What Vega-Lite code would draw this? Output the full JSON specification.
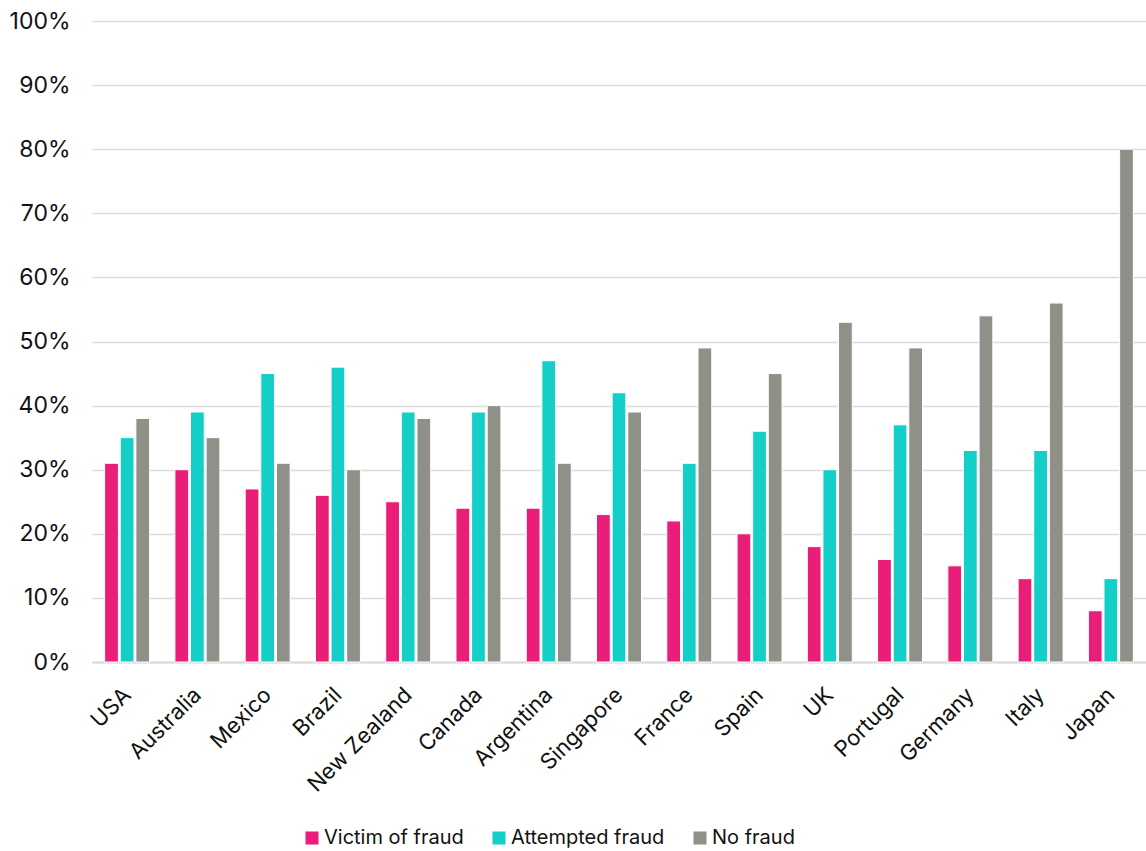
{
  "$schema": "https://vega.github.io/schema/vega-lite/v6.json",
  "autosize": {"type": "none"},
  "width": 1054,
  "height": 641,
  "padding": {"left": 92, "top": 21, "right": 0, "bottom": 189},
  "background": "white",
  "config": {
    "font": "Inter",
    "view": {"stroke": null},
    "axis": {"labelFont": "Inter", "labelColor": "#111111"},
    "legend": {"labelFont": "Inter", "labelColor": "#111111"}
  },
  "data": {
    "values": [
      {"country": "USA", "type": "Victim of fraud", "pct": 0.31},
      {"country": "USA", "type": "Attempted fraud", "pct": 0.35},
      {"country": "USA", "type": "No fraud", "pct": 0.38},
      {"country": "Australia", "type": "Victim of fraud", "pct": 0.30},
      {"country": "Australia", "type": "Attempted fraud", "pct": 0.39},
      {"country": "Australia", "type": "No fraud", "pct": 0.35},
      {"country": "Mexico", "type": "Victim of fraud", "pct": 0.27},
      {"country": "Mexico", "type": "Attempted fraud", "pct": 0.45},
      {"country": "Mexico", "type": "No fraud", "pct": 0.31},
      {"country": "Brazil", "type": "Victim of fraud", "pct": 0.26},
      {"country": "Brazil", "type": "Attempted fraud", "pct": 0.46},
      {"country": "Brazil", "type": "No fraud", "pct": 0.30},
      {"country": "New Zealand", "type": "Victim of fraud", "pct": 0.25},
      {"country": "New Zealand", "type": "Attempted fraud", "pct": 0.39},
      {"country": "New Zealand", "type": "No fraud", "pct": 0.38},
      {"country": "Canada", "type": "Victim of fraud", "pct": 0.24},
      {"country": "Canada", "type": "Attempted fraud", "pct": 0.39},
      {"country": "Canada", "type": "No fraud", "pct": 0.40},
      {"country": "Argentina", "type": "Victim of fraud", "pct": 0.24},
      {"country": "Argentina", "type": "Attempted fraud", "pct": 0.47},
      {"country": "Argentina", "type": "No fraud", "pct": 0.31},
      {"country": "Singapore", "type": "Victim of fraud", "pct": 0.23},
      {"country": "Singapore", "type": "Attempted fraud", "pct": 0.42},
      {"country": "Singapore", "type": "No fraud", "pct": 0.39},
      {"country": "France", "type": "Victim of fraud", "pct": 0.22},
      {"country": "France", "type": "Attempted fraud", "pct": 0.31},
      {"country": "France", "type": "No fraud", "pct": 0.49},
      {"country": "Spain", "type": "Victim of fraud", "pct": 0.20},
      {"country": "Spain", "type": "Attempted fraud", "pct": 0.36},
      {"country": "Spain", "type": "No fraud", "pct": 0.45},
      {"country": "UK", "type": "Victim of fraud", "pct": 0.18},
      {"country": "UK", "type": "Attempted fraud", "pct": 0.30},
      {"country": "UK", "type": "No fraud", "pct": 0.53},
      {"country": "Portugal", "type": "Victim of fraud", "pct": 0.16},
      {"country": "Portugal", "type": "Attempted fraud", "pct": 0.37},
      {"country": "Portugal", "type": "No fraud", "pct": 0.49},
      {"country": "Germany", "type": "Victim of fraud", "pct": 0.15},
      {"country": "Germany", "type": "Attempted fraud", "pct": 0.33},
      {"country": "Germany", "type": "No fraud", "pct": 0.54},
      {"country": "Italy", "type": "Victim of fraud", "pct": 0.13},
      {"country": "Italy", "type": "Attempted fraud", "pct": 0.33},
      {"country": "Italy", "type": "No fraud", "pct": 0.56},
      {"country": "Japan", "type": "Victim of fraud", "pct": 0.08},
      {"country": "Japan", "type": "Attempted fraud", "pct": 0.13},
      {"country": "Japan", "type": "No fraud", "pct": 0.80}
    ]
  },
  "mark": {"type": "bar", "stroke": "white", "strokeWidth": 1},
  "encoding": {
    "x": {
      "field": "country",
      "type": "nominal",
      "sort": null,
      "title": null,
      "scale": {"paddingInner": 0.36, "paddingOuter": 0.18},
      "axis": {
        "labelAngle": -45,
        "labelFontSize": 22,
        "labelPadding": 22,
        "labelOffset": -7,
        "ticks": false,
        "domainColor": "#d9d9d9",
        "domainWidth": 2
      }
    },
    "xOffset": {
      "field": "type",
      "type": "nominal",
      "sort": ["Victim of fraud", "Attempted fraud", "No fraud"],
      "scale": {"paddingInner": 0.12}
    },
    "y": {
      "field": "pct",
      "type": "quantitative",
      "title": null,
      "scale": {"domain": [0, 1]},
      "axis": {
        "format": ".0%",
        "values": [0, 0.1, 0.2, 0.3, 0.4, 0.5, 0.6, 0.7, 0.8, 0.9, 1],
        "labelFontSize": 23,
        "labelPadding": 22,
        "ticks": false,
        "domain": false,
        "gridColor": "#dcdcdc",
        "gridWidth": 1.5
      }
    },
    "color": {
      "field": "type",
      "type": "nominal",
      "title": null,
      "sort": ["Victim of fraud", "Attempted fraud", "No fraud"],
      "scale": {
        "domain": ["Victim of fraud", "Attempted fraud", "No fraud"],
        "range": ["#E91E78", "#14CEC8", "#8F9088"]
      },
      "legend": {
        "orient": "none",
        "direction": "horizontal",
        "legendX": 210,
        "legendY": 807,
        "symbolType": "square",
        "symbolSize": 170,
        "symbolStrokeWidth": 0,
        "labelFontSize": 20,
        "labelOffset": 2,
        "labelLimit": 400,
        "columnPadding": 25,
        "symbolOpacity": 1
      }
    }
  }
}
